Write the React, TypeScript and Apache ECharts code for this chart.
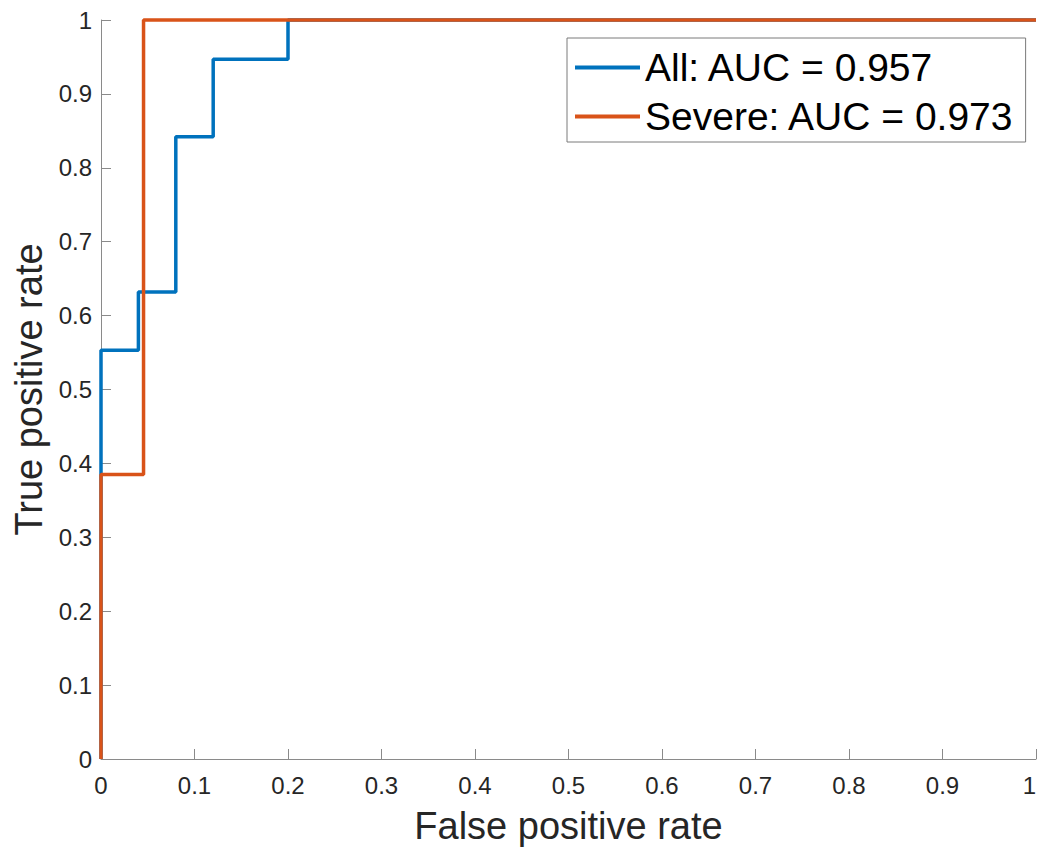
import React, { useEffect, useRef } from "react";
import * as echarts from "echarts";

const allFpr = [0, 0, 0.04, 0.04, 0.08, 0.08, 0.12, 0.12, 0.2, 0.2, 1];
const allTpr = [0, 0.553, 0.553, 0.632, 0.632, 0.842, 0.842, 0.947, 0.947, 1, 1];
const sevFpr = [0, 0, 0.0455, 0.0455, 1];
const sevTpr = [0, 0.385, 0.385, 1, 1];
const seriesNames = ["All: AUC = 0.957", "Severe: AUC = 0.973"];
const colors = ["#0072BD", "#D95319"];

export default function App() {
  const ref = useRef<HTMLDivElement>(null);
  useEffect(() => {
    const chart = echarts.init(ref.current!, null, { renderer: "svg" });
    const font = "Liberation Sans, Arial, Helvetica, sans-serif";
    const axisCommon = {
      type: "value",
      min: 0,
      max: 1,
      interval: 0.1,
      axisLine: { show: true, onZero: false, lineStyle: { color: "#8a8a8a", width: 1 } },
      axisTick: { show: true, inside: true, length: 10, lineStyle: { color: "#8a8a8a" } },
      splitLine: { show: false },
      axisLabel: {
        color: "#262626",
        fontSize: 24,
        fontFamily: font,
        formatter: (v: number) => String(Math.round(v * 10) / 10),
      },
      nameLocation: "middle",
      nameTextStyle: { color: "#262626", fontSize: 38, fontFamily: font },
    };
    chart.setOption({
      animation: false,
      grid: { left: 101, right: 3, top: 20, bottom: 88, outerBoundsMode: "none", containLabel: false },
      xAxis: {
        ...axisCommon,
        name: "False positive rate",
        nameGap: 48,
        axisLabel: { ...axisCommon.axisLabel, margin: 14, alignMaxLabel: "right" },
      },
      yAxis: { ...axisCommon, name: "True positive rate", nameGap: 52, axisLabel: { ...axisCommon.axisLabel, margin: 9 } },
      legend: {
        left: 567,
        top: 38,
        orient: "vertical",
        backgroundColor: "#fff",
        borderColor: "#7a7a7a",
        borderWidth: 1,
        borderRadius: 0,
        padding: [10, 11, 6, 8],
        itemGap: 10,
        itemWidth: 65,
        itemHeight: 4,
        icon: "rect",
        textStyle: { fontSize: 39, color: "#000", fontFamily: font },
        data: seriesNames,
      },
      series: [
        {
          name: seriesNames[0],
          type: "line",
          data: allFpr.map((x, i) => [x, allTpr[i]]),
          showSymbol: false,
          symbol: "none",
          lineStyle: { color: colors[0], width: 3.5 },
          itemStyle: { color: colors[0] },
          clip: false,
          z: 2,
        },
        {
          name: seriesNames[1],
          type: "line",
          data: sevFpr.map((x, i) => [x, sevTpr[i]]),
          showSymbol: false,
          symbol: "none",
          lineStyle: { color: colors[1], width: 3.5 },
          itemStyle: { color: colors[1] },
          clip: false,
          z: 3,
        },
      ],
    });
    return () => chart.dispose();
  }, []);
  return <div ref={ref} style={{ width: 1039, height: 847, position: "absolute", left: 0, top: 0, background: "#fff" }} />;
}
